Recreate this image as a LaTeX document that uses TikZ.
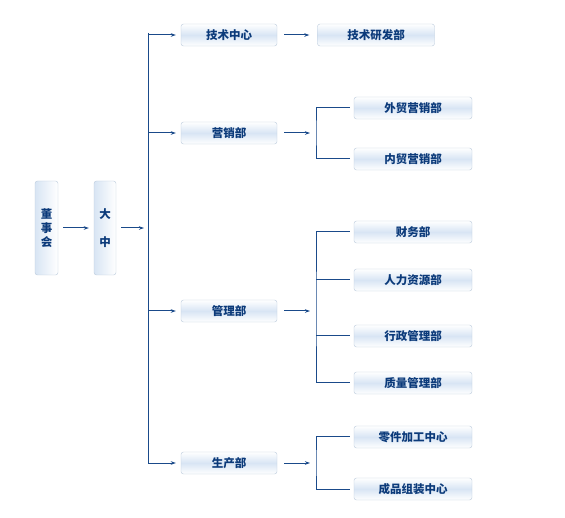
\documentclass[tikz,border=0pt]{standalone}
\usepackage{fontspec}
\newfontfamily\cjk{Noto Sans CJK SC}
\usetikzlibrary{arrows.meta}
\definecolor{linecol}{HTML}{1A4A8A}
\definecolor{textcol}{HTML}{0B3A7A}
\definecolor{boxline}{HTML}{B9C9DB}
\definecolor{boxmid}{HTML}{D8E5F4}
\tikzset{
  hbox/.style={draw=boxline, rounded corners=2.5pt, top color=white, bottom color=white,
    middle color=boxmid, minimum width=96pt, minimum height=22pt, inner sep=0pt,
    text=textcol, font=\cjk\bfseries\fontsize{11.5}{13}\selectfont},
  wbox/.style={hbox, minimum width=118pt},
  vbox/.style={draw=boxline, rounded corners=2.5pt, left color=boxmid, right color=white,
    minimum width=22pt, minimum height=94pt, inner sep=0pt, align=center,
    text=textcol, font=\cjk\bfseries\fontsize{11.5}{14}\selectfont},
  link/.style={draw=linecol, line width=1pt},
  arr/.style={link, -{Stealth[length=5pt,width=3.5pt]}},
}
\begin{document}
\begin{tikzpicture}[x=1pt,y=-1pt]
\useasboundingbox (0,0) rectangle (565,518);

\node[vbox, minimum width=23pt] (dsh) at (46.5,228) {董\\事\\会};
\node[vbox] (dz) at (105,228) {大\\[14pt]中};

\node[hbox] (jszx) at (229,35) {技术中心};
\node[hbox, minimum width=117pt] (jsyf) at (376,35) {技术研发部};

\node[hbox] (yx) at (229,133) {营销部};
\node[wbox] (wm) at (413,108) {外贸营销部};
\node[wbox] (nm) at (413,159) {内贸营销部};

\node[hbox] (gl) at (229,311) {管理部};
\node[wbox] (cw) at (413,232) {财务部};
\node[wbox] (rl) at (413,280) {人力资源部};
\node[wbox] (xz) at (413,336) {行政管理部};
\node[wbox] (zl) at (413,383) {质量管理部};

\node[hbox] (sc) at (229,463) {生产部};
\node[wbox] (lj) at (413,437) {零件加工中心};
\node[wbox] (cp) at (413,489) {成品组装中心};

\coordinate (top) at (148,33);
\coordinate (yxb) at (316,133);
\coordinate (glb) at (316,311);
\coordinate (scb) at (316,463);

\draw[arr, shorten <=5pt, shorten >=5pt] (dsh) -- (dz);
\draw[arr, shorten <=5pt, shorten >=4pt] (dz.east) -- (dz.east -| top);
\draw[link] (top) -- (top |- sc);
\foreach \n in {jszx, yx, gl, sc}
  \draw[arr, shorten >=5pt] (top |- \n) -- (\n.west);

\draw[arr, shorten <=7pt, shorten >=8pt] (jszx) -- (jsyf);
\draw[arr, shorten <=7pt, shorten >=6pt] (yx.east) -- (yxb);
\draw[arr, shorten <=7pt, shorten >=6pt] (gl.east) -- (glb);
\draw[arr, shorten <=7pt, shorten >=6pt] (sc.east) -- (scb);

\draw[link] ([xshift=-4pt]wm.west) -| (yxb) |- ([xshift=-4pt]nm.west);
\draw[link] ([xshift=-4pt]cw.west) -| (glb) |- ([xshift=-4pt]zl.west);
\draw[link] (glb |- rl) -- ([xshift=-4pt]rl.west);
\draw[link] (glb |- xz) -- ([xshift=-4pt]xz.west);
\draw[link] ([xshift=-4pt]lj.west) -| (scb) |- ([xshift=-4pt]cp.west);
\end{tikzpicture}
\end{document}
